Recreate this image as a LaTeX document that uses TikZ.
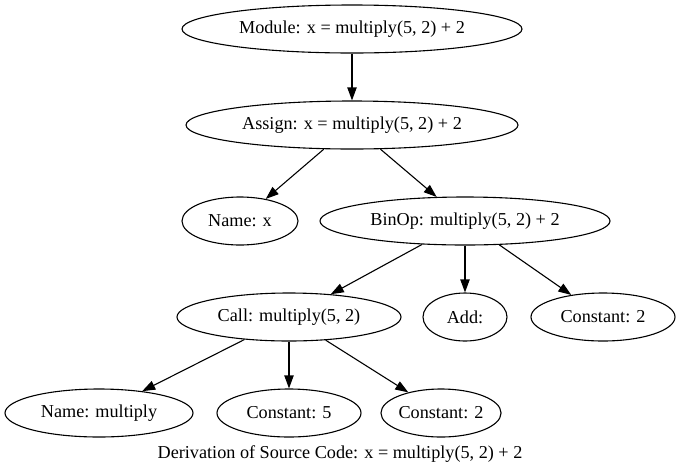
\documentclass[tikz,border=0pt]{standalone}
\usepackage{fontspec}
\setmainfont{Liberation Serif}
\usetikzlibrary{shapes.geometric,arrows.meta}
\begin{document}
\begin{tikzpicture}[x=1pt,y=-1pt,
  txt/.style={font=\fontsize{18.2}{20}\selectfont},
  ell/.style={ellipse,draw,line width=1.1pt,inner sep=0pt,minimum height=48pt,txt},
  edge/.style={-{Triangle[length=13pt,width=9.3pt]},line width=1.1pt}]
\useasboundingbox (0,0) rectangle (680,475);
\node[ell,minimum width=340pt] (mod) at (352,29) {Module: x = multiply(5, 2) + 2};
\node[ell,minimum width=332pt] (asg) at (352,125) {Assign: x = multiply(5, 2) + 2};
\node[ell,minimum width=116pt] (nx) at (240,221) {Name: x};
\node[ell,minimum width=290pt] (bin) at (465,221) {BinOp: multiply(5, 2) + 2};
\node[ell,minimum width=224pt] (call) at (289,317) {Call: multiply(5, 2)};
\node[ell,minimum width=84pt] (add) at (465,317) {Add:};
\node[ell,minimum width=144pt] (c2a) at (603,317) {Constant: 2};
\node[ell,minimum width=188pt] (nm) at (99,413) {Name: multiply};
\node[ell,minimum width=144pt] (c5) at (289,413) {Constant: 5};
\node[ell,minimum width=112pt] (c2b) at (441,413) {Constant: 2};
\node[txt] (cap) at (340,454) {Derivation of Source Code: x = multiply(5, 2) + 2};
\draw[edge] (mod) -- (asg);
\draw[edge] (asg) -- (nx);
\draw[edge] (asg) -- (bin);
\draw[edge] (bin) -- (call);
\draw[edge] (bin) -- (add);
\draw[edge] (bin) -- (c2a);
\draw[edge] (call) -- (nm);
\draw[edge] (call) -- (c5);
\draw[edge] (call) -- (c2b);
\end{tikzpicture}
\end{document}
